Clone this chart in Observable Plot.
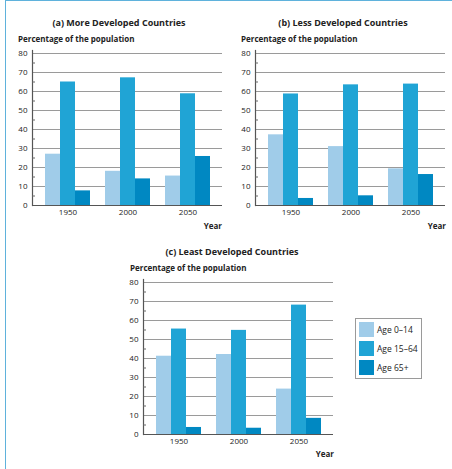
<!DOCTYPE html>
<html>
<head>
<meta charset="utf-8">
<script src="https://cdn.jsdelivr.net/npm/d3@7"></script>
<script src="https://cdn.jsdelivr.net/npm/@observablehq/plot@0.6"></script>
<style>
  body { margin: 0; background: #fff; font-family: "Open Sans", sans-serif; color: #222; }
  #page { position: relative; width: 452px; height: 469px; overflow: hidden; }
  .edge { position: absolute; left: 5px; top: 0; right: 0; bottom: 0;
          border-top: 1px solid #5fb2dc; border-left: 1.5px solid #5fb2dc; }
  .panel { position: absolute; }
  .title { position: absolute; font-weight: bold; font-size: 9px; white-space: nowrap;
           transform: translate(-50%, -50%); }
  .ylabel { position: absolute; font-weight: bold; font-size: 8px; white-space: nowrap;
            transform: translateY(-50%); }
  .xlabel { position: absolute; font-weight: bold; font-size: 8px; white-space: nowrap;
            transform: translate(-100%, -50%); }
  .legend { position: absolute; left: 355px; top: 318px; width: 67px; height: 61px;
            border: 1px solid #9a9a9a; box-sizing: border-box; }
  .legend .item { position: absolute; left: 3px; height: 15px; display: flex; align-items: center;
                  font-size: 8.5px; white-space: nowrap; }
  .legend .sw { width: 15px; height: 15px; margin-right: 3px; }
</style>
</head>
<body>
<div id="page"><div class="edge"></div></div>
<script>
// Population share by broad age group, 1950 / 2000 / 2050
const years = [1950, 2000, 2050];
const ageGroups = ["Age 0–14", "Age 15–64", "Age 65+"];
const ageColors = ["#a0cce9", "#20a4d5", "#0088c2"];
const yTicks = [0, 10, 20, 30, 40, 50, 60, 70, 80];
const yMinorTicks = [5, 15, 25, 35, 45, 55, 65, 75];

const panelTitles = [
  "(a) More Developed Countries",
  "(b) Less Developed Countries",
  "(c) Least Developed Countries"
];
const yAxisTitle = "Percentage of the population";
const xAxisTitle = "Year";

// (a) More developed
const moreDevAge0to14 = [27, 18, 15.5];
const moreDevAge15to64 = [65, 67.2, 58.8];
const moreDevAge65plus = [7.7, 14, 25.8];
// (b) Less developed
const lessDevAge0to14 = [37.2, 31, 19.3];
const lessDevAge15to64 = [58.7, 63.5, 63.9];
const lessDevAge65plus = [3.7, 5.1, 16.3];
// (c) Least developed
const leastDevAge0to14 = [41.2, 42.1, 23.9];
const leastDevAge15to64 = [55.5, 54.8, 68.1];
const leastDevAge65plus = [3.7, 3.3, 8.5];

const panels = [
  { series: [moreDevAge0to14, moreDevAge15to64, moreDevAge65plus],
    left: 0, top: 45, titleX: 119, titleY: 22, yLabelX: 18, yLabelY: 38, yearX: 222, yearY: 225 },
  { series: [lessDevAge0to14, lessDevAge15to64, lessDevAge65plus],
    left: 223, top: 45, titleX: 343, titleY: 22, yLabelX: 241, yLabelY: 38, yearX: 446, yearY: 225 },
  { series: [leastDevAge0to14, leastDevAge15to64, leastDevAge65plus],
    left: 111, top: 274, titleX: 232, titleY: 251, yLabelX: 130, yLabelY: 267, yearX: 334, yearY: 453 }
];

const fontFamily = "'Open Sans', sans-serif";

function groupedBars(series) {
  // one band per (year, age) pair, with an empty band between years
  const rows = [];
  const domain = [];
  years.forEach((year, i) => {
    if (i > 0) domain.push(`gap-${i}`);
    ageGroups.forEach((age, j) => {
      const key = `${year}|${age}`;
      domain.push(key);
      rows.push({ key, age, value: series[j][i] });
    });
  });
  const yearTicks = years.map(year => `${year}|${ageGroups[1]}`);

  return Plot.plot({
    width: 226,
    height: 175,
    marginLeft: 32,
    marginRight: 4,
    marginTop: 5,
    marginBottom: 15,
    insetTop: 3,
    style: { fontFamily, fontSize: "8px", color: "#222", background: "transparent", overflow: "visible" },
    x: { type: "band", domain, paddingInner: 0, paddingOuter: 0.8, axis: null },
    y: { domain: [0, 80], axis: null },
    color: { domain: ageGroups, range: ageColors },
    marks: [
      Plot.ruleY(yTicks.slice(1), { stroke: "#9a9a9a", strokeWidth: 1.2 }),
      Plot.barY(rows, { x: "key", y: "value", fill: "age", inset: 0 }),
      Plot.ruleY([0], { stroke: "#555", strokeWidth: 1.2 }),
      Plot.frame({ anchor: "left", stroke: "#555", strokeWidth: 1.2 }),
      Plot.axisY({ ticks: yTicks, tickSize: 0, tickPadding: 5, label: null }),
      Plot.axisY({ ticks: yMinorTicks, tickSize: -3, tickFormat: () => "", stroke: "#666", label: null }),
      Plot.axisX({ ticks: yearTicks, tickSize: 0, tickPadding: 3.5, tickFormat: k => k.split("|")[0], label: null })
    ]
  });
}

const page = document.getElementById("page");

panels.forEach((p, i) => {
  const holder = document.createElement("div");
  holder.className = "panel";
  holder.style.left = p.left + "px";
  holder.style.top = p.top + "px";
  holder.appendChild(groupedBars(p.series));
  page.appendChild(holder);

  const title = document.createElement("div");
  title.className = "title";
  title.textContent = panelTitles[i];
  title.style.left = p.titleX + "px";
  title.style.top = p.titleY + "px";
  page.appendChild(title);

  const ylab = document.createElement("div");
  ylab.className = "ylabel";
  ylab.textContent = yAxisTitle;
  ylab.style.left = p.yLabelX + "px";
  ylab.style.top = p.yLabelY + "px";
  page.appendChild(ylab);

  const xlab = document.createElement("div");
  xlab.className = "xlabel";
  xlab.textContent = xAxisTitle;
  xlab.style.left = p.yearX + "px";
  xlab.style.top = p.yearY + "px";
  page.appendChild(xlab);
});

// legend box
const legend = document.createElement("div");
legend.className = "legend";
ageGroups.forEach((age, j) => {
  const item = document.createElement("div");
  item.className = "item";
  item.style.top = (3 + 19 * j) + "px";
  const sw = document.createElement("div");
  sw.className = "sw";
  sw.style.background = ageColors[j];
  item.appendChild(sw);
  item.appendChild(document.createTextNode(age));
  legend.appendChild(item);
});
page.appendChild(legend);
</script>
</body>
</html>
